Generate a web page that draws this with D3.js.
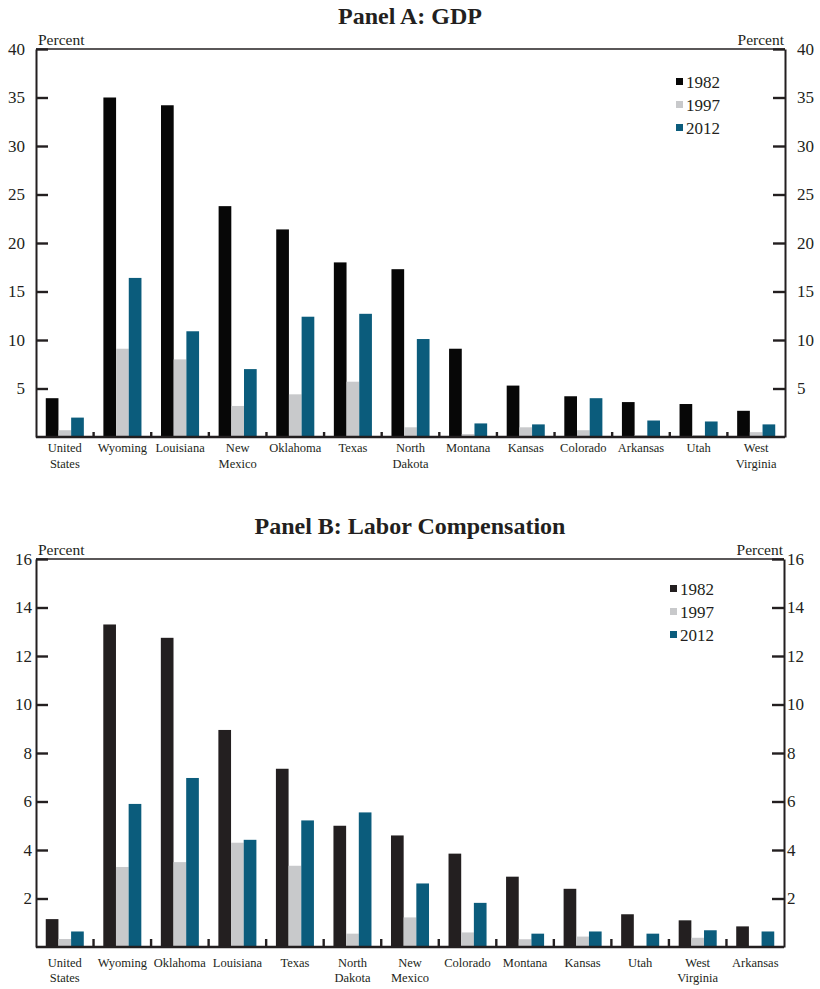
<!DOCTYPE html>
<html>
<head>
<meta charset="utf-8">
<script src="https://cdn.jsdelivr.net/npm/d3@7"></script>
<style>
  html, body { margin: 0; padding: 0; background: #fff; }
  svg { display: block; font-family: "Liberation Serif", "Times New Roman", serif; }
</style>
</head>
<body>
<svg id="chart" width="820" height="989"></svg>
<script>
// Series years shown in both panels
const years = ["1982", "1997", "2012"];

// Panel A: GDP share (percent)
const gdpStates = ["United States", "Wyoming", "Louisiana", "New Mexico", "Oklahoma", "Texas",
  "North Dakota", "Montana", "Kansas", "Colorado", "Arkansas", "Utah", "West Virginia"];
const gdp1982 = [4.0, 35.0, 34.2, 23.8, 21.4, 18.0, 17.3, 9.1, 5.3, 4.2, 3.6, 3.4, 2.7];
const gdp1997 = [0.7, 9.1, 8.0, 3.2, 4.4, 5.7, 1.0, 0.3, 1.0, 0.7, 0.2, 0.2, 0.5];
const gdp2012 = [2.0, 16.4, 10.9, 7.0, 12.4, 12.7, 10.1, 1.4, 1.3, 4.0, 1.7, 1.6, 1.3];
const gdpTicks = [5, 10, 15, 20, 25, 30, 35, 40];

// Panel B: Labor compensation share (percent)
const labStates = ["United States", "Wyoming", "Oklahoma", "Louisiana", "Texas", "North Dakota",
  "New Mexico", "Colorado", "Montana", "Kansas", "Utah", "West Virginia", "Arkansas"];
const lab1982 = [1.15, 13.3, 12.75, 8.95, 7.35, 5.0, 4.6, 3.85, 2.9, 2.4, 1.35, 1.1, 0.85];
const lab1997 = [0.33, 3.3, 3.5, 4.3, 3.35, 0.55, 1.22, 0.6, 0.32, 0.43, 0.05, 0.38, 0.04];
const lab2012 = [0.64, 5.9, 6.97, 4.42, 5.22, 5.55, 2.62, 1.82, 0.55, 0.64, 0.55, 0.69, 0.64];
const labTicks = [2, 4, 6, 8, 10, 12, 14, 16];

const svg = d3.select("#chart");
const ink = "#231f20";

function drawPanel(opt) {
  const g = svg.append("g");
  const { left, right, top, bottom } = opt;

  const x = d3.scaleBand().domain(opt.states).range([left, right]);
  const xs = d3.scaleBand().domain(years).range([0, x.bandwidth()]).paddingOuter(0.77).paddingInner(0);
  const y = d3.scaleLinear().domain([0, opt.max]).range([bottom, top]);
  const color = d3.scaleOrdinal().domain(years).range(opt.colors);

  // Title
  g.append("text")
    .attr("x", 410).attr("y", opt.titleY)
    .attr("text-anchor", "middle")
    .attr("font-size", 24).attr("font-weight", "bold").attr("fill", ink)
    .text(opt.title);

  // Top frame line
  g.append("line")
    .attr("x1", left).attr("x2", right).attr("y1", top).attr("y2", top)
    .attr("stroke", ink).attr("stroke-width", 1.6);

  // Bars
  const rows = opt.states.map((s, i) => ({ state: s, values: years.map((yr, k) => ({ yr, v: opt.series[k][i] })) }));
  const grp = g.selectAll("g.state").data(rows).join("g")
    .attr("transform", d => `translate(${x(d.state)},0)`);
  grp.selectAll("rect").data(d => d.values).join("rect")
    .attr("x", d => xs(d.yr))
    .attr("width", xs.bandwidth())
    .attr("y", d => y(d.v))
    .attr("height", d => y(0) - y(d.v))
    .attr("fill", d => color(d.yr));

  // Y axes (ticks inward, labels outside)
  const yl = d3.axisLeft(y).tickValues(opt.ticks).tickSizeInner(-12).tickSizeOuter(0).tickPadding(opt.padL);
  const yr = d3.axisRight(y).tickValues(opt.ticks).tickSizeInner(-12).tickSizeOuter(0).tickPadding(opt.padR);
  [[yl, left], [yr, right]].forEach(([ax, px]) => {
    const a = g.append("g").attr("transform", `translate(${px},0)`).call(ax);
    a.select(".domain").attr("stroke", ink).attr("stroke-width", 2);
    a.selectAll(".tick line").attr("stroke", ink).attr("stroke-width", 2.4);
    a.selectAll(".tick text").attr("font-size", 17).attr("fill", ink)
      .attr("font-family", "Liberation Serif, serif");
  });

  // "Percent" unit labels
  g.append("text").attr("x", left + 2).attr("y", top - 4)
    .attr("font-size", 15.5).attr("fill", ink).text("Percent");
  g.append("text").attr("x", right - 1).attr("y", top - 4)
    .attr("text-anchor", "end")
    .attr("font-size", 15.5).attr("fill", ink).text("Percent");

  // Baseline
  g.append("line")
    .attr("x1", left).attr("x2", right).attr("y1", y(0)).attr("y2", y(0))
    .attr("stroke", ink).attr("stroke-width", 2.6);

  // Group separator marks on baseline
  g.selectAll("line.sep").data(opt.states.slice(1)).join("line")
    .attr("class", "sep")
    .attr("x1", d => x(d)).attr("x2", d => x(d))
    .attr("y1", y(0)).attr("y2", y(0) - opt.sepH)
    .attr("stroke", ink).attr("stroke-width", 2.4);

  // Category labels (two-word names split over two lines)
  const lab = g.selectAll("text.cat").data(opt.states).join("text")
    .attr("class", "cat")
    .attr("text-anchor", "middle")
    .attr("font-size", 12.5).attr("fill", ink)
    .attr("transform", d => `translate(${x(d) + x.bandwidth() / 2},${y(0) + opt.labDy})`);
  lab.selectAll("tspan").data(d => d.split(" ")).join("tspan")
    .attr("x", 0).attr("dy", (d, i) => i === 0 ? 0 : 15.8)
    .text(d => d);

  // Legend
  const lg = g.selectAll("g.leg").data(years).join("g")
    .attr("class", "leg")
    .attr("transform", (d, i) => `translate(${opt.legX},${opt.legY + i * 23})`);
  lg.append("rect").attr("x", 0).attr("y", -4).attr("width", 7).attr("height", 7)
    .attr("fill", d => color(d));
  lg.append("text").attr("x", 10).attr("y", 0).attr("dy", "0.35em")
    .attr("font-size", 17).attr("fill", ink).text(d => d);
}

drawPanel({
  title: "Panel A: GDP", titleY: 24,
  states: gdpStates, series: [gdp1982, gdp1997, gdp2012],
  max: 40, ticks: gdpTicks,
  left: 36, right: 785, top: 49, bottom: 437,
  padL: 11, padR: 12, sepH: 5, labDy: 15,
  colors: ["#070707", "#c8c9cb", "#0b5c7c"],
  legX: 676, legY: 82
});

drawPanel({
  title: "Panel B: Labor Compensation", titleY: 534,
  states: labStates, series: [lab1982, lab1997, lab2012],
  max: 16, ticks: labTicks,
  left: 36, right: 784, top: 559, bottom: 947,
  padL: 4, padR: 3, sepH: 8, labDy: 19.5,
  colors: ["#231f20", "#c8c9cb", "#0b5c7c"],
  legX: 670, legY: 589
});
</script>
</body>
</html>
